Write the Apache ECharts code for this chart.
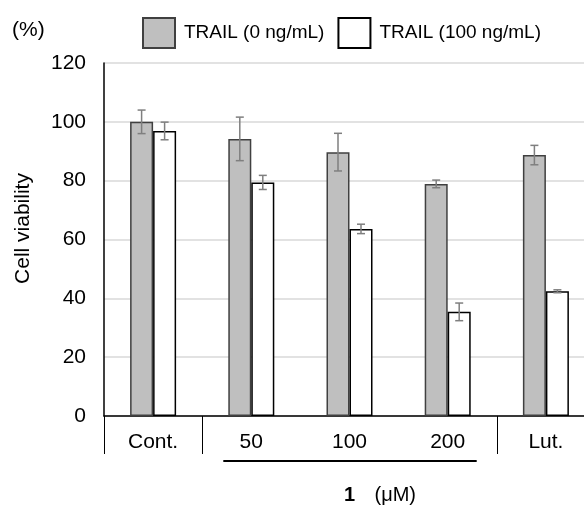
<!DOCTYPE html>
<html>
<head>
<meta charset="utf-8">
<script src="https://cdn.jsdelivr.net/npm/echarts@6/dist/echarts.min.js"></script>
<style>
  html, body { margin: 0; padding: 0; background: #fff; }
  #main { width: 584px; height: 505px; }
</style>
</head>
<body>
<div id="main"></div>
<script>
// categories and values
const categories = ["Cont.", "50", "100", "200", "Lut."];
const trail0 = [100.0, 94.2, 89.7, 78.9, 88.7];
const trail0Err = [4.0, 7.4, 6.4, 1.3, 3.3];
const trail100 = [96.9, 79.4, 63.6, 35.4, 42.4];
const trail100Err = [3.0, 2.4, 1.6, 3.0, 0.5];

const FONT = "Liberation Sans";
const BAR_W = 23;

// [index, low, high] for the error bars
const errData = (vals, errs) => vals.map((v, i) => [i, v - errs[i], v + errs[i]]);

function errorBarItem(offset) {
  return function (params, api) {
    const hi = api.coord([api.value(0), api.value(2)]);
    const lo = api.coord([api.value(0), api.value(1)]);
    const x = hi[0] + offset;
    const cap = 4;
    const st = { stroke: "#7f7f7f", lineWidth: 1.5 };
    return {
      type: "group",
      children: [
        { type: "line", shape: { x1: x, y1: hi[1], x2: x, y2: lo[1] }, style: st },
        { type: "line", shape: { x1: x - cap, y1: hi[1], x2: x + cap, y2: hi[1] }, style: st },
        { type: "line", shape: { x1: x - cap, y1: lo[1], x2: x + cap, y2: lo[1] }, style: st }
      ]
    };
  };
}

const chart = echarts.init(document.getElementById("main"));
const option = {
  animation: false,
  textStyle: { fontFamily: FONT },
  legend: {
    data: ["TRAIL (0 ng/mL)", "TRAIL (100 ng/mL)"],
    left: 137,
    top: 12,
    itemWidth: 32,
    itemHeight: 30,
    itemGap: 13,
    icon: "rect",
    textStyle: { fontSize: 19, color: "#000", padding: [0, 0, 0, 4] }
  },
  grid: { left: 104, top: 63, bottom: 89, width: 491, outerBoundsMode: "none", containLabel: false },
  xAxis: {
    type: "category",
    data: categories,
    axisLine: { lineStyle: { color: "#000", width: 1.5 } },
    axisTick: {
      show: true,
      length: 38,
      // only draw separators around Cont. and Lut.
      interval: function (index) { return index === 0 || index === 1 || index === 4; },
      lineStyle: { color: "#000", width: 1 }
    },
    axisLabel: { fontSize: 21, color: "#000", margin: 16, interval: 0 }
  },
  yAxis: {
    type: "value",
    min: 0,
    max: 120,
    interval: 20,
    name: "Cell viability",
    nameLocation: "middle",
    nameGap: 70,
    nameTextStyle: { fontSize: 21, color: "#000", padding: [0, 0, 0, 22] },
    axisLine: { show: true, lineStyle: { color: "#000", width: 1.5 } },
    axisTick: { show: false },
    axisLabel: { fontSize: 21, color: "#000", margin: 18 },
    splitLine: { lineStyle: { color: "#d9d9d9", width: 1.5 } }
  },
  series: [
    {
      name: "TRAIL (0 ng/mL)",
      type: "bar",
      data: trail0,
      barWidth: BAR_W,
      barGap: "0%",
      itemStyle: { color: "#bfbfbf", borderColor: "#404040", borderWidth: 1.5 }
    },
    {
      name: "TRAIL (100 ng/mL)",
      type: "bar",
      data: trail100,
      barWidth: BAR_W,
      barGap: "0%",
      itemStyle: { color: "#ffffff", borderColor: "#000", borderWidth: 1.5 }
    },
    {
      name: "err0",
      type: "custom",
      data: errData(trail0, trail0Err),
      encode: { x: 0, y: [1, 2] },
      renderItem: errorBarItem(-BAR_W / 2),
      z: 5
    },
    {
      name: "err100",
      type: "custom",
      data: errData(trail100, trail100Err),
      encode: { x: 0, y: [1, 2] },
      renderItem: errorBarItem(BAR_W / 2),
      z: 5
    }
  ]
};
chart.setOption(option);

// annotations placed from the axis positions
const x50 = chart.convertToPixel({ xAxisIndex: 0 }, "50");
const x100 = chart.convertToPixel({ xAxisIndex: 0 }, "100");
const x200 = chart.convertToPixel({ xAxisIndex: 0 }, "200");
const y0 = chart.convertToPixel({ yAxisIndex: 0 }, 0);

chart.setOption({
  graphic: [
    {
      type: "text",
      left: 12,
      top: 20,
      style: { text: "(%)", font: "21px " + FONT, fill: "#000" }
    },
    {
      type: "line",
      shape: { x1: x50 - 28, y1: y0 + 45, x2: x200 + 29, y2: y0 + 45 },
      style: { stroke: "#000", lineWidth: 2 }
    },
    {
      type: "text",
      x: x100,
      y: y0 + 79,
      style: { text: "1", font: "bold 20px " + FONT, fill: "#000", align: "center", verticalAlign: "middle" }
    },
    {
      type: "text",
      x: x100 + 25,
      y: y0 + 79,
      style: { text: "(μM)", font: "20px " + FONT, fill: "#000", align: "left", verticalAlign: "middle" }
    }
  ]
});
</script>
</body>
</html>
